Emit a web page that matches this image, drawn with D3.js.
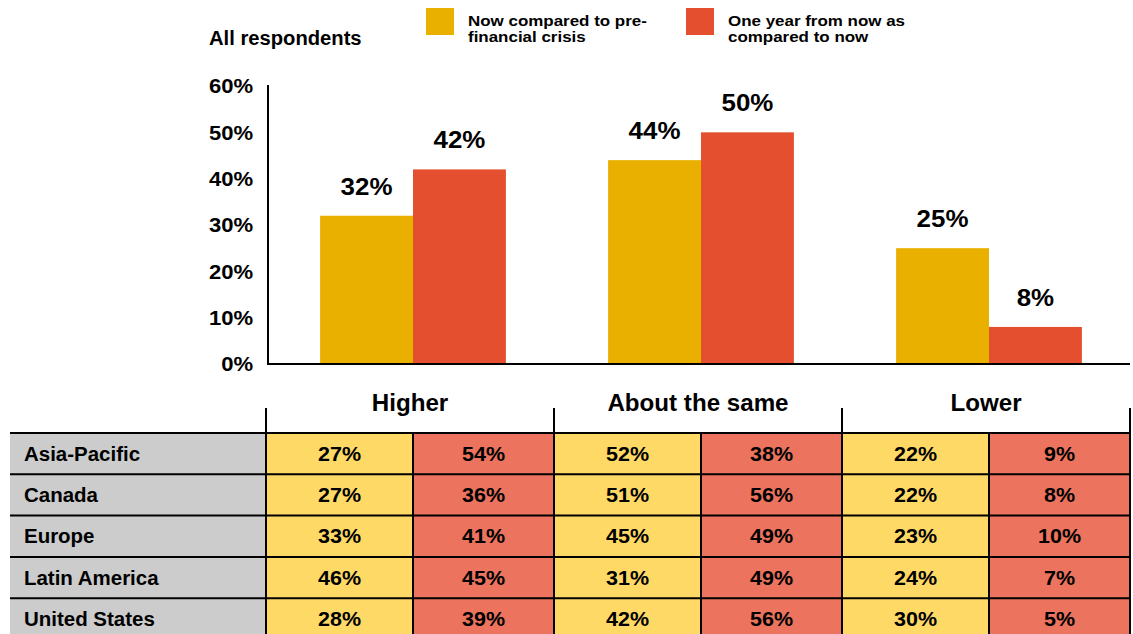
<!DOCTYPE html>
<html><head><meta charset="utf-8">
<script src="https://cdn.jsdelivr.net/npm/d3@7/dist/d3.min.js"></script>
<style>body{margin:0;background:#fff;} text{font-family:"Liberation Sans",Arial,sans-serif;font-weight:bold;fill:#000;}</style>
</head><body>
<svg id="c" width="1133" height="634"></svg>
<script>
const categories = ["Higher", "About the same", "Lower"];
const seriesNames = ["Now compared to pre-financial crisis", "One year from now as compared to now"];
const nowValues = [32, 44, 25];
const futureValues = [42, 50, 8];
const yTicks = [0, 10, 20, 30, 40, 50, 60];
const regions = ["Asia-Pacific", "Canada", "Europe", "Latin America", "United States"];
// per region: [Higher now, Higher future, Same now, Same future, Lower now, Lower future]
const regionValues = [
  [27, 54, 52, 38, 22, 9],
  [27, 36, 51, 56, 22, 8],
  [33, 41, 45, 49, 23, 10],
  [46, 45, 31, 49, 24, 7],
  [28, 39, 42, 56, 30, 5]
];

const barColors = ["#EAB000", "#E4502F"];
const cellColors = ["#FFD966", "#EC735E"];

const svg = d3.select("#c");
const x0 = d3.scaleBand().domain(categories).range([266, 1130]);
const x1 = d3.scaleBand().domain([0, 1]).range([3, x0.bandwidth() + 3]).paddingOuter(0.55);
const y = d3.scaleLinear().domain([0, 60]).range([364, 86]);

function txt(parent, x, yy, str, size, sx, anchor) {
  return parent.append("text")
    .attr("x", x).attr("y", yy)
    .attr("text-anchor", anchor || "start")
    .attr("transform", `translate(${x},0) scale(${sx},1) translate(${-x},0)`)
    .style("font-size", size + "px")
    .text(str);
}

const yAxis = d3.axisLeft(y).tickValues(yTicks).tickFormat(d => d + "%").tickSize(0).tickPadding(15);
const ya = svg.append("g").attr("transform", "translate(268,0)").call(yAxis);
ya.select(".domain").remove();
ya.selectAll("text")
  .style("font-size", "21px").style("font-family", "Liberation Sans, Arial, sans-serif").style("font-weight", "bold")
  .attr("fill", "#000")
  .attr("transform", "translate(-15,0) scale(1.05,1) translate(15,0)");

const series = [nowValues, futureValues];
categories.forEach((c, i) => {
  series.forEach((vals, s) => {
    const bx = x0(c) + x1(s);
    svg.append("rect").attr("x", bx).attr("y", y(vals[i])).attr("width", x1.bandwidth()).attr("height", y(0) - y(vals[i])).attr("fill", barColors[s]);
    txt(svg, bx + x1.bandwidth() / 2, y(vals[i]) - 21, vals[i] + "%", 24, 1.08, "middle");
  });
});

svg.append("line").attr("x1", 268).attr("x2", 268).attr("y1", 85).attr("y2", 365).attr("stroke", "#000").attr("stroke-width", 2);
svg.append("line").attr("x1", 267).attr("x2", 1130).attr("y1", 364).attr("y2", 364).attr("stroke", "#000").attr("stroke-width", 2);

txt(svg, 209, 45, "All respondents", 20, 1.01);
const legX = [426, 686];
const legLines = [["Now compared to pre-", "financial crisis"], ["One year from now as", "compared to now"]];
legX.forEach((lx, s) => {
  svg.append("rect").attr("x", lx).attr("y", 8).attr("width", 28).attr("height", 27).attr("fill", barColors[s]);
  legLines[s].forEach((t, k) => {
    txt(svg, lx + 42, 26 + k * 16, t, 15, 1.13);
  });
});

const rowY = d3.scaleBand().domain(regions).range([433, 433 + 5 * 41.3]);
const tbl = svg.append("g");
tbl.append("rect").attr("x", 10).attr("y", rowY.range()[0]).attr("width", 256).attr("height", rowY.range()[1] - rowY.range()[0]).attr("fill", "#CCCCCC");
regions.forEach((r, ri) => {
  const cy = rowY(r) + rowY.bandwidth() / 2 + 7;
  txt(tbl, 24, cy, r, 19.5, 1.05);
  categories.forEach((c, ci) => {
    [0, 1].forEach(s => {
      const xs = s === 0 ? x0(c) : x0(c) + x1(1);
      const xe = s === 0 ? x0(c) + x1(1) : x0(c) + x0.bandwidth();
      tbl.append("rect").attr("x", xs).attr("y", rowY(r)).attr("width", xe - xs).attr("height", rowY.bandwidth()).attr("fill", cellColors[s]);
      txt(tbl, (xs + xe) / 2, cy, regionValues[ri][ci * 2 + s] + "%", 20, 1.075, "middle");
    });
  });
});
regions.forEach(r => {
  tbl.append("line").attr("x1", 10).attr("x2", 1131).attr("y1", rowY(r)).attr("y2", rowY(r)).attr("stroke", "#000").attr("stroke-width", 2);
});
categories.forEach(c => {
  tbl.append("line").attr("x1", x0(c)).attr("x2", x0(c)).attr("y1", 408).attr("y2", 634).attr("stroke", "#000").attr("stroke-width", 2);
  tbl.append("line").attr("x1", x0(c) + x1(1)).attr("x2", x0(c) + x1(1)).attr("y1", 433).attr("y2", 634).attr("stroke", "#000").attr("stroke-width", 2);
  txt(tbl, x0(c) + x0.bandwidth() / 2, 411, c, 23, 1.05, "middle");
});
tbl.append("line").attr("x1", 1130).attr("x2", 1130).attr("y1", 408).attr("y2", 634).attr("stroke", "#000").attr("stroke-width", 2);
</script>
</body></html>
